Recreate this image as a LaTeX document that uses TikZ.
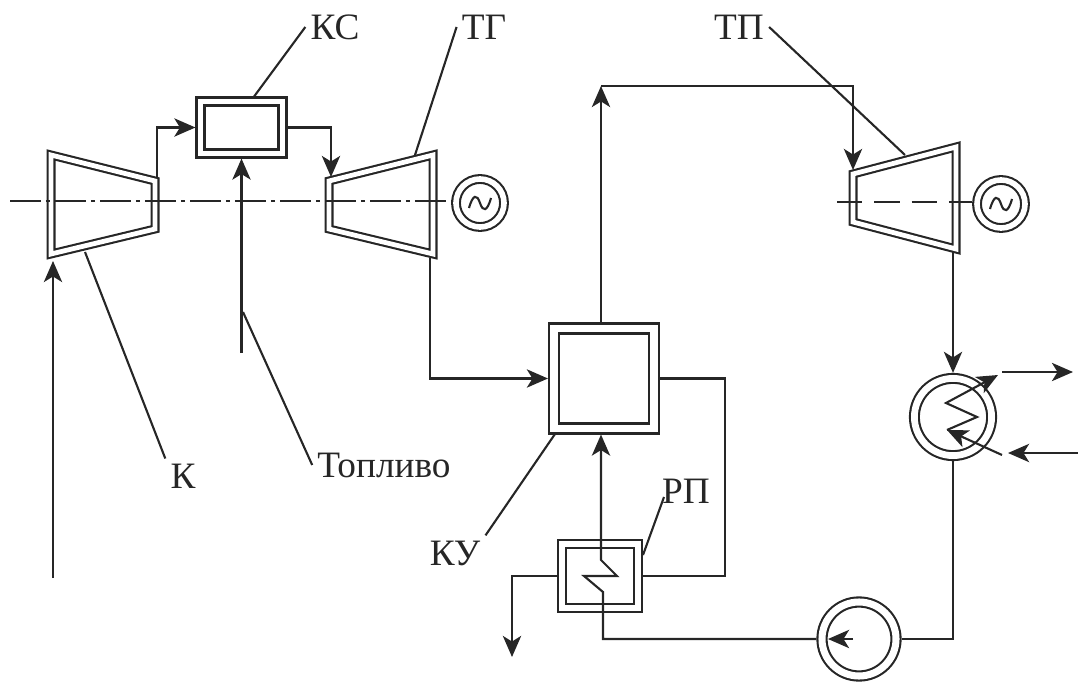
\documentclass[tikz,border=0pt]{standalone}
\usepackage{fontspec}
\setmainfont{Liberation Serif}
\usetikzlibrary{arrows.meta}
\begin{document}
\begin{tikzpicture}[
  x=0.025cm, y=-0.025cm,
  >={Stealth[length=15pt,width=13pt,inset=4pt]},
  line width=1.5pt, color=black!85,
  dblbox/.style={draw, double=white, double distance=#1, inner sep=0pt, outer sep={0.5*#1+1.5pt}, line join=miter},
  dblturb/.style={draw, double=white, double distance=3.4pt, line join=miter},
  lab/.style={font=\fontsize{26.5}{30}\selectfont, inner sep=3pt},
  axisline/.style={dash pattern=on 22pt off 3.5pt on 3pt off 3.5pt},
  axisdash/.style={dash pattern=on 18pt off 8.5pt}
]
\useasboundingbox (0,0) rectangle (1078,682);
% turbomachines
\draw[dblturb] (51,155) -- (155,181) -- (155,229) -- (51,254) -- cycle;
\draw[dblturb] (329,181) -- (433,155) -- (433,254) -- (329,229) -- cycle;
\draw[dblturb] (853,174) -- (956,147) -- (956,249) -- (853,222) -- cycle;
% apparatus
\node[dblbox=4.2pt, minimum width=2.05cm, minimum height=1.3cm] (ks) at (241.5,127.5) {};
\node[dblbox=5.6pt, minimum width=2.5cm, minimum height=2.5cm] (ku) at (604,378.5) {};
\node[dblbox=3.8pt, minimum width=1.9cm, minimum height=1.6cm] (rp) at (600,576) {};
\node[dblbox=4pt, shape=circle, minimum size=1.2cm] (gena) at (480,203) {};
\node[dblbox=4pt, shape=circle, minimum size=1.2cm] (genb) at (1001,204) {};
\node[dblbox=4.8pt, shape=circle, minimum size=1.93cm] (co) at (953,417) {};
\node[dblbox=5pt, shape=circle, minimum size=1.85cm] (pu) at (859,639) {};
% labels
\node[lab] (lks) at (335,27) {КС};
\node[lab] (ltg) at (484,27) {ТГ};
\node[lab] (ltp) at (739,27) {ТП};
\node[lab] (lk) at (183,476) {К};
\node[lab] (lf) at (384,465) {Топливо};
\node[lab] (lku) at (455,553) {КУ};
\node[lab] (lrp) at (686,491) {РП};
% free ends
\coordinate (kin) at (53,578);
\coordinate (kinb) at (53,261);
\coordinate (kout) at (157,177);
\coordinate (tgin) at (331,177);
\coordinate (tgout) at (430,258);
\coordinate (fuel) at (241.5,353);
\coordinate (stm) at (601,86);
\coordinate (tpin) at (853,170);
\coordinate (tpout) at (953,252);
\coordinate (fbk) at (601,560);
\coordinate (drain) at (512,657);
\coordinate (axa) at (10,201);
\coordinate (axb) at (837,202);
\coordinate (coa) at (947,430);
\coordinate (cob) at (998,375);
\coordinate (wia) at (1002,455);
\coordinate (woa) at (1002,372);
\coordinate (wob) at (1073,372);
\coordinate (wra) at (1078,453);
\coordinate (wrb) at (1008,453);
\coordinate (puc) at (853,639);
\coordinate (puf) at (828,639);
\coordinate (pks) at (253,98);
\coordinate (ptg) at (415,155);
\coordinate (ptp) at (905,155);
\coordinate (pk) at (85,252);
\coordinate (pf) at (243,312);
\coordinate (pku) at (555,434);
\coordinate (prp) at (643,555);
\coordinate (qrp) at (664,497);
% axes
\draw[axisline] (axa) -- (axa -| gena.west);
\draw[axisdash] (axb) -- (axb -| genb.west);
% flows
\draw[->] (kin) -- (kinb);
\draw[->] (kout) |- (ks.west);
\draw[->] (ks.east) -| (tgin);
\draw[->] (fuel) -- (ks.south);
\draw[->] (tgout) |- (ku.west);
\draw[->] (stm |- ku.north) -- (stm);
\draw[->] (stm) -| (tpin);
\draw[->] (tpout) -- (co.north);
\draw (ku.east) -- ++(65,0) |- (rp.east);
\draw[->] (rp.west) -| (drain);
\draw[->] (pu.west) -| (603,592) -- (584,576) -- (617,576) -- (fbk) -- (fbk |- ku.south);
\draw (co.south) |- (pu.east);
\draw[->] (puc) -- (puf);
\draw[->] (coa) -- (977,417) -- (946,403) -- (cob);
\draw[->] (wia) -- (coa);
\draw[->] (woa) -- (wob);
\draw[->] (wra) -- (wrb);
% generators
\foreach \g in {gena,genb}
  \draw[shift={(\g.center)}] (-11,5) .. controls (-7,-9) and (-3,-9) .. (0,0) .. controls (3,9) and (7,9) .. (11,-5);
% leaders
\draw (lks.west) -- (pks);
\draw (ltg.west) -- (ptg);
\draw (ltp.east) -- (ptp);
\draw (lk.north west) -- (pk);
\draw (lf.west) -- (pf);
\draw (lku.north east) -- (pku);
\draw (qrp) -- (prp);
\end{tikzpicture}
\end{document}
